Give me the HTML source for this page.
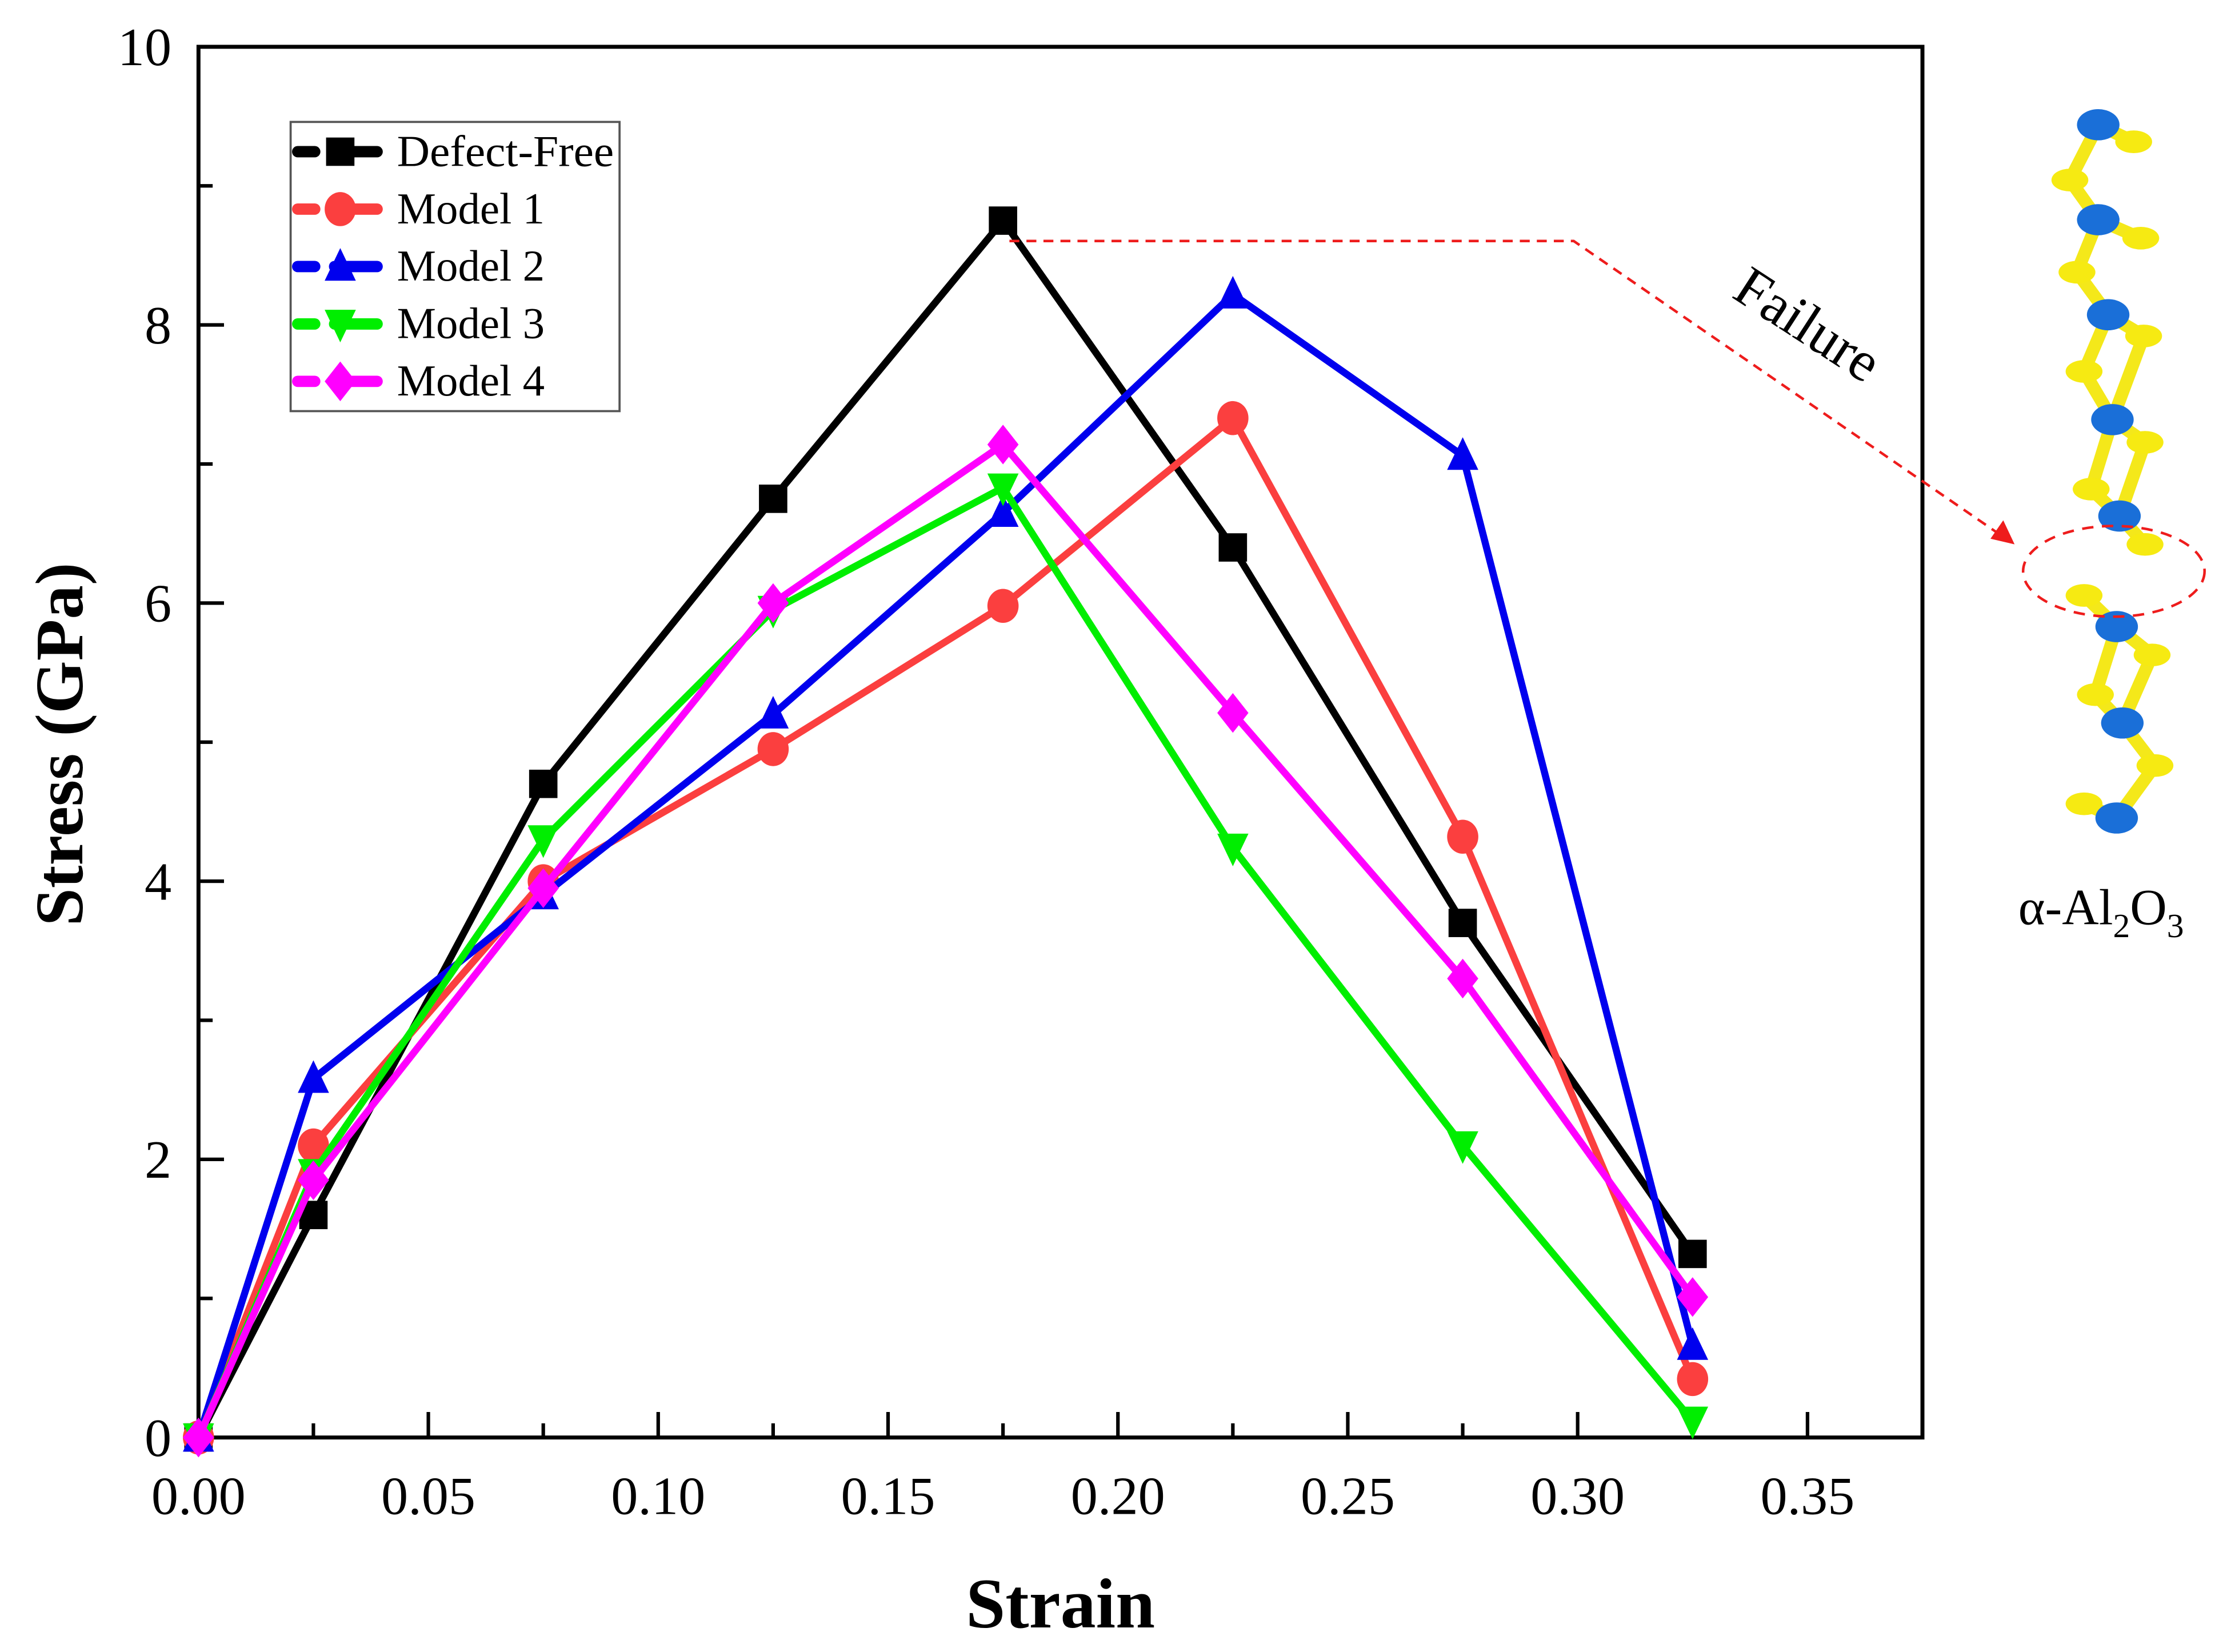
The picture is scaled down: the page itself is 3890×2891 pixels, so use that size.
<!DOCTYPE html>
<html><head><meta charset="utf-8"><style>
html,body{margin:0;padding:0;background:#fff;}
svg{display:block;}
text{font-family:"Liberation Serif",serif;}
</style></head><body>
<svg id="chart" xmlns="http://www.w3.org/2000/svg" width="3890" height="2891" viewBox="0 0 1568 1165.3">
<rect width="1568" height="1166" fill="#fff"/>
<g id="axes"></g>
<g id="series"></g>
<g id="legend">
<rect x="205" y="86" width="232" height="204" fill="#fff" stroke="#555" stroke-width="1.5"/>
</g>
<g id="annot">
<polyline points="712,170 1110,170 1412,378" fill="none" stroke="#ee1c1c" stroke-width="1.8" stroke-dasharray="7,5"/>
<polygon points="1421,384 1404,380 1413,367" fill="#ee1c1c"/>
<text x="1268" y="240" font-size="40" transform="rotate(33 1268 240)" text-anchor="middle">Failure</text>
</g>
<g id="molecule"></g>
<ellipse cx="1491" cy="403" rx="64" ry="32" fill="none" stroke="#ee1c1c" stroke-width="1.8" stroke-dasharray="8,6"/>
<text x="1482" y="652" font-size="36" text-anchor="middle">α-Al<tspan font-size="24" dy="9">2</tspan><tspan dy="-9">O</tspan><tspan font-size="24" dy="9">3</tspan></text>
</svg>
<script>
const strain = [0, 0.025, 0.075, 0.125, 0.175, 0.225, 0.275, 0.325];
const seriesNames = ["Defect-Free", "Model 1", "Model 2", "Model 3", "Model 4"];
const defectFree = [0, 1.6, 4.7, 6.75, 8.75, 6.4, 3.7, 1.32];
const model1 = [0, 2.1, 4.0, 4.95, 5.98, 7.33, 4.32, 0.42];
const model2 = [0, 2.58, 3.9, 5.2, 6.65, 8.22, 7.06, 0.66];
const model3 = [0, 1.9, 4.3, 5.95, 6.83, 4.24, 2.1, 0.12];
const model4 = [0, 1.85, 3.95, 6.0, 7.14, 5.21, 3.3, 1.01];
const xTicks = ["0.00","0.05","0.10","0.15","0.20","0.25","0.30","0.35"];
const yTicks = ["0","2","4","6","8","10"];

const NS = "http://www.w3.org/2000/svg";
const X0 = 140, X1 = 1356, XMAX = 0.375, Y0 = 1014, Y1 = 33, YMAX = 10;
function sx(v){ return X0 + v / XMAX * (X1 - X0); }
function sy(v){ return Y0 - v / YMAX * (Y0 - Y1); }
function mk(tag, attrs, parent){
  const e = document.createElementNS(NS, tag);
  for (const k in attrs) e.setAttribute(k, attrs[k]);
  parent.appendChild(e);
  return e;
}
const axes = document.getElementById('axes');
const frame = mk('rect', {x:X0, y:Y1, width:X1-X0, height:Y0-Y1, fill:'none', stroke:'#000', 'stroke-width':2.8}, axes);


for (let i = 0; i < xTicks.length; i++) {
  const v = parseFloat(xTicks[i]);
  const t = mk('line', {x1:sx(v), x2:sx(v), y1:Y0, y2:Y0-18, stroke:'#000', 'stroke-width':2.5}, axes);
  
  
  const m = mk('line', {x1:sx(v+0.025), x2:sx(v+0.025), y1:Y0, y2:Y0-10, stroke:'#000', 'stroke-width':2.5}, axes);
  
  
  const l = mk('text', {x:sx(v), y:1068, 'font-size':38, 'text-anchor':'middle'}, axes);
  l.textContent = xTicks[i];
  
  
}
for (let i = 0; i < yTicks.length; i++) {
  const v = parseFloat(yTicks[i]);
  const t = mk('line', {x1:X0, x2:X0+18, y1:sy(v), y2:sy(v), stroke:'#000', 'stroke-width':2.5}, axes);
  
  
  if (v < YMAX) {
    const m = mk('line', {x1:X0, x2:X0+10, y1:sy(v+1), y2:sy(v+1), stroke:'#000', 'stroke-width':2.5}, axes);
    
    
  }
  const l = mk('text', {x:121, y:sy(v)+13, 'font-size':38, 'text-anchor':'end'}, axes);
  l.textContent = yTicks[i];
  
  
}
const xt = mk('text', {x:748, y:1148, 'font-size':50, 'font-weight':'bold', 'text-anchor':'middle'}, axes);
xt.textContent = 'Strain';


const yt = mk('text', {x:58, y:525, 'font-size':48, 'font-weight':'bold', 'text-anchor':'middle', transform:'rotate(-90 58 525)'}, axes);
yt.textContent = 'Stress (GPa)';



const colors = ['#000000', '#fb3f3f', '#0000ee', '#00ee00', '#ff00ff'];
const shapes = ['square', 'circle', 'up', 'down', 'diamond'];
const allData = [defectFree, model1, model2, model3, model4];
function marker(shape, x, y, c, parent){
  const r = 11;
  let e;
  if (shape === 'square') e = mk('rect', {x:x-r+1, y:y-r+1, width:2*r-2, height:2*r-2, fill:c}, parent);
  else if (shape === 'circle') e = mk('ellipse', {cx:x, cy:y, rx:r, ry:r+1, fill:c}, parent);
  else if (shape === 'up') e = mk('polygon', {points:`${x},${y-r-2} ${x-r},${y+r-1} ${x+r},${y+r-1}`, fill:c}, parent);
  else if (shape === 'down') e = mk('polygon', {points:`${x},${y+r+2} ${x-r},${y-r+1} ${x+r},${y-r+1}`, fill:c}, parent);
  else e = mk('polygon', {points:`${x},${y-r-3} ${x+r},${y} ${x},${y+r+3} ${x-r},${y}`, fill:c}, parent);
  return e;
}
const sg = document.getElementById('series');
const lg = document.getElementById('legend');
for (let s = 0; s < allData.length; s++) {
  const g = mk('g', {}, sg);
  
  
  const pts = strain.map((v, i) => sx(v) + ',' + sy(allData[s][i])).join(' ');
  const pl = mk('polyline', {points:pts, fill:'none', stroke:colors[s], 'stroke-width':5, 'stroke-linejoin':'miter'}, g);
  
  
  for (let i = 0; i < strain.length; i++) {
    const m = marker(shapes[s], sx(strain[i]), sy(allData[s][i]), colors[s], g);
    
    
  }
  const ly = 107 + s * 40.5;
  const le = mk('g', {}, lg);
  
  
  mk('line', {x1:210, x2:270, y1:ly, y2:ly, stroke:colors[s], 'stroke-width':8, 'stroke-linecap':'round', 'stroke-dasharray':'12,14,30,14,12'}, le);
  marker(shapes[s], 240, ly, colors[s], le);
  const tx = mk('text', {x:280, y:ly+10, 'font-size':31, textLength:153, lengthAdjust:'spacingAndGlyphs'}, le);
  if (s > 0) tx.removeAttribute('textLength');
  tx.textContent = seriesNames[s];
}

const mol = document.getElementById('molecule');
const bonds = [[1480,88,1505,100],[1480,88,1460,127],[1460,127,1480,155],[1480,155,1510,168],[1480,155,1465,192],[1465,192,1487,222],
[1487,222,1512,237],[1487,222,1470,262],[1512,237,1490,296],[1470,262,1490,296],[1490,296,1513,312],[1490,296,1475,345],[1513,312,1495,364],[1475,345,1495,364],[1495,364,1513,384],
[1470,420,1493,442],[1493,442,1518,462],[1493,442,1478,490],[1518,462,1497,510],[1478,490,1497,510],[1497,510,1520,540],[1520,540,1493,577],[1493,577,1470,567]];
bonds.forEach(b => {
  const e = mk('line', {x1:b[0], y1:b[1], x2:b[2], y2:b[3], stroke:'#f4e81a', 'stroke-width':9, 'stroke-linecap':'round'}, mol);
  
  
});
const yel = [[1505,100],[1460,127],[1510,168],[1465,192],[1512,237],[1470,262],[1513,312],[1475,345],[1513,384],[1470,420],[1518,462],[1478,490],[1520,540],[1470,567]];
yel.forEach(p => {
  const e = mk('ellipse', {cx:p[0], cy:p[1], rx:13, ry:8, fill:'#f6ea12'}, mol);
  
  
});
const blu = [[1480,88],[1480,155],[1487,222],[1490,296],[1495,364],[1493,442],[1497,510],[1493,577]];
blu.forEach(p => {
  const e = mk('ellipse', {cx:p[0], cy:p[1], rx:15, ry:11, fill:'#1a6fd8'}, mol);
  
  
});
</script>
</body></html>
